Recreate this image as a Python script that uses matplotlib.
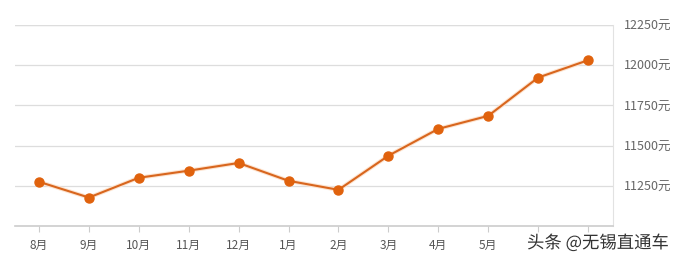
import numpy as np
import matplotlib.pyplot as plt
import matplotlib.patheffects as pe

plt.rcParams['font.family'] = ['Noto Sans CJK SC', 'DejaVu Sans']

# data
months = ['8月', '9月', '10月', '11月', '12月', '1月', '2月', '3月', '4月', '5月', '6月', '7月']
prices = [11275, 11177, 11300, 11344, 11392, 11281, 11225, 11437, 11604, 11685, 11923, 12031]
yticks = [11250, 11500, 11750, 12000, 12250]
shown = ['8月', '9月', '10月', '11月', '12月', '1月', '2月', '3月', '4月', '5月', '', '']

fig = plt.figure(figsize=(6.75, 2.59), dpi=100)
ax = fig.add_axes([15/675, 33/259, 598/675, 201/259])

x = np.arange(len(months))
ax.plot(x, prices, color='#d8661e', lw=1.5, zorder=3,
        path_effects=[pe.Stroke(linewidth=3, foreground='#fde3cf'), pe.Normal()])
ax.plot(x, prices, ls='none', marker='o', ms=6.5, color='#e0620d', mec='#e0620d', zorder=4)

ax.set_xlim(-0.48, 11.5)
ax.set_ylim(11000, 12250)
ax.set_yticks(yticks)
ax.set_yticklabels([f'{v}元' for v in yticks])
ax.yaxis.tick_right()
ax.tick_params(axis='y', length=0, pad=8, labelsize=9, labelcolor='#666666')
ax.set_xticks(x)
ax.set_xticklabels(shown)
ax.tick_params(axis='x', length=4, color='#cccccc', pad=5, labelsize=8.5, labelcolor='#555555')
ax.grid(axis='y', color='#dddddd', lw=0.9)
ax.set_axisbelow(True)

for s in ['left', 'top']:
    ax.spines[s].set_visible(False)
ax.spines['right'].set_color('#e2e2e2')
ax.spines['bottom'].set_color('#cccccc')
ax.spines['bottom'].set_linewidth(1.2)
ax.axhline(12250, color='#dddddd', lw=0.9)

fig.text(527/675, 1 - 243/259, '头条 @无锡直通车', fontsize=12.5, color='#333333',
         va='center', ha='left',
         path_effects=[pe.withStroke(linewidth=2, foreground='white')])

fig.savefig('out.png', dpi=100)
